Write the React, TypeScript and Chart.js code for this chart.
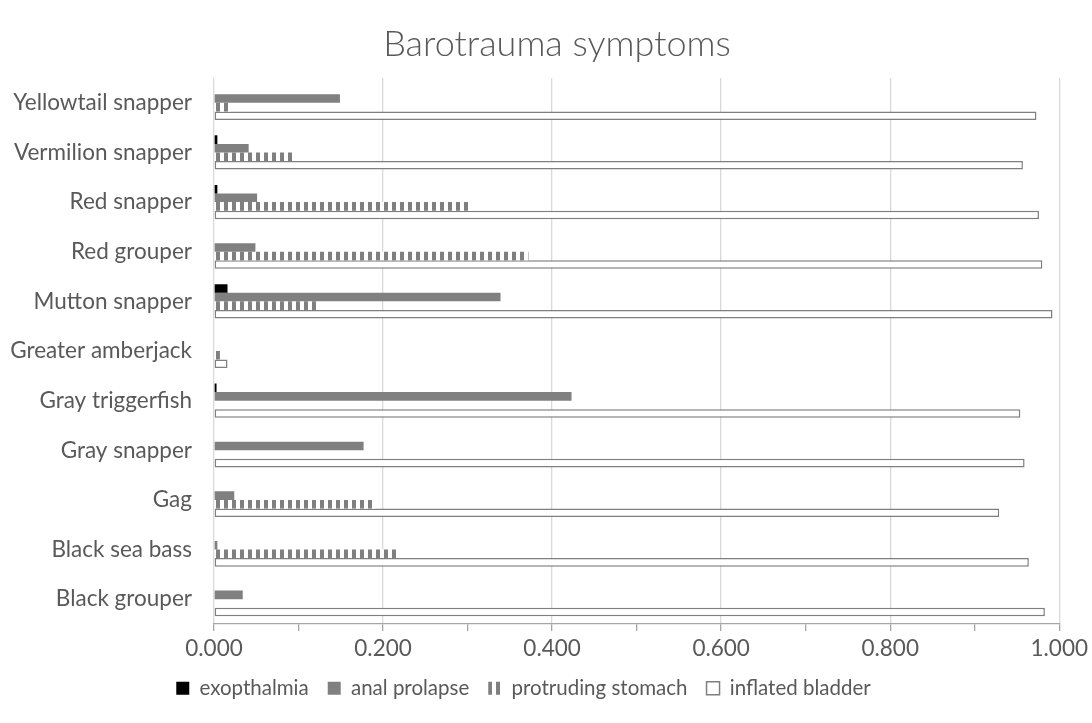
import React, { useEffect, useRef } from 'react';
import { Chart, registerables } from 'chart.js';

Chart.register(...registerables);

// ---- data (categories listed top to bottom) ----
const categories = [
  'Yellowtail snapper',
  'Vermilion snapper',
  'Red snapper',
  'Red grouper',
  'Mutton snapper',
  'Greater amberjack',
  'Gray triggerfish',
  'Gray snapper',
  'Gag',
  'Black sea bass',
  'Black grouper',
];
const exopthalmia = [0, 0.004, 0.004, 0, 0.016, 0, 0.003, 0, 0, 0, 0];
const analProlapse = [0.149, 0.041, 0.051, 0.049, 0.339, 0, 0.423, 0.177, 0.024, 0.004, 0.034];
const protrudingStomach = [0.02, 0.093, 0.301, 0.372, 0.125, 0.007, 0, 0, 0.191, 0.218, 0];
const inflatedBladder = [0.973, 0.957, 0.976, 0.98, 0.992, 0.016, 0.954, 0.959, 0.929, 0.964, 0.983];
const seriesNames = ['exopthalmia', 'anal prolapse', 'protruding stomach', 'inflated bladder'];
const chartTitle = 'Barotrauma symptoms';
const axisMin = 0;
const axisMax = 1;
const minorStep = 0.1;

const FONT = 'Lato, "Open Sans", "Noto Sans", sans-serif';
const TEXT = '#595959';

function makeStripes(): CanvasPattern | string {
  const c = document.createElement('canvas');
  c.width = 8;
  c.height = 8;
  const g = c.getContext('2d');
  if (!g) return '#7f7f7f';
  g.fillStyle = '#ffffff';
  g.fillRect(0, 0, 8, 8);
  g.fillStyle = '#7f7f7f';
  g.fillRect(0, 0, 4, 8);
  return g.createPattern(c, 'repeat') || '#7f7f7f';
}

// Title drawn by a small inline plugin so it can sit where the original one sits
const titlePlugin = {
  id: 'excelTitle',
  afterDraw(chart: any) {
    const ctx = chart.ctx;
    ctx.save();
    ctx.font = `300 36px ${FONT}`;
    ctx.fillStyle = TEXT;
    ctx.textAlign = 'center';
    ctx.textBaseline = 'alphabetic';
    ctx.fillText(chartTitle, 557, 56);
    ctx.restore();
  },
};

export default function App() {
  const ref = useRef<HTMLCanvasElement>(null);

  useEffect(() => {
    if (!ref.current) return;
    const stripes = makeStripes();
    const common = { categoryPercentage: 0.69, barPercentage: 1 };
    const chart = new Chart(ref.current, {
      type: 'bar',
      data: {
        labels: categories,
        datasets: [
          { label: seriesNames[0], data: exopthalmia, backgroundColor: '#000000', borderWidth: 0, ...common },
          { label: seriesNames[1], data: analProlapse, backgroundColor: '#808080', borderWidth: 0, ...common },
          { label: seriesNames[2], data: protrudingStomach, backgroundColor: stripes as any, borderWidth: 0, ...common },
          {
            label: seriesNames[3],
            data: inflatedBladder,
            backgroundColor: '#ffffff',
            borderColor: '#7f7f7f',
            borderWidth: 1.5,
            borderSkipped: false,
            ...common,
          },
        ],
      },
      plugins: [titlePlugin],
      options: {
        indexAxis: 'y',
        responsive: false,
        animation: false,
        layout: { padding: { left: -15, right: 30, top: 78, bottom: 14.5 } },
        scales: {
          x: {
            min: axisMin,
            max: axisMax,
            ticks: {
              stepSize: minorStep,
              autoSkip: false,
              maxRotation: 0,
              padding: 4,
              color: TEXT,
              font: { family: FONT, size: 22.5 },
              callback: (v: any, i: number) => (i % 2 === 0 ? Number(v).toFixed(3) : ''),
            },
            grid: {
              color: (ctx: any) => (ctx.index % 2 === 0 ? '#d9d9d9' : 'rgba(0,0,0,0)'),
              lineWidth: 1.3,
              tickColor: '#a6a6a6',
              tickLength: 7,
              drawTicks: true,
            },
            border: { display: true, color: '#a6a6a6', width: 1.3 },
            afterFit: (s: any) => {
              s.height = 35;
            },
          },
          y: {
            grid: { display: false, drawTicks: false },
            border: { display: false },
            ticks: { color: TEXT, font: { family: FONT, size: 22.5 }, padding: 22 },
            afterFit: (s: any) => {
              s.width = 229;
            },
          },
        },
        plugins: {
          title: { display: false },
          legend: {
            position: 'bottom',
            labels: {
              boxWidth: 13,
              boxHeight: 13,
              padding: 19,
              color: TEXT,
              font: { family: FONT, size: 20.5 },
            },
          },
          tooltip: { enabled: false },
        },
      },
    });
    return () => chart.destroy();
  }, []);

  return (
    <div style={{ position: 'absolute', left: 0, top: 0, width: 1092, height: 723, background: '#ffffff' }}>
      <canvas ref={ref} width={1092} height={723} style={{ display: 'block' }} />
    </div>
  );
}
